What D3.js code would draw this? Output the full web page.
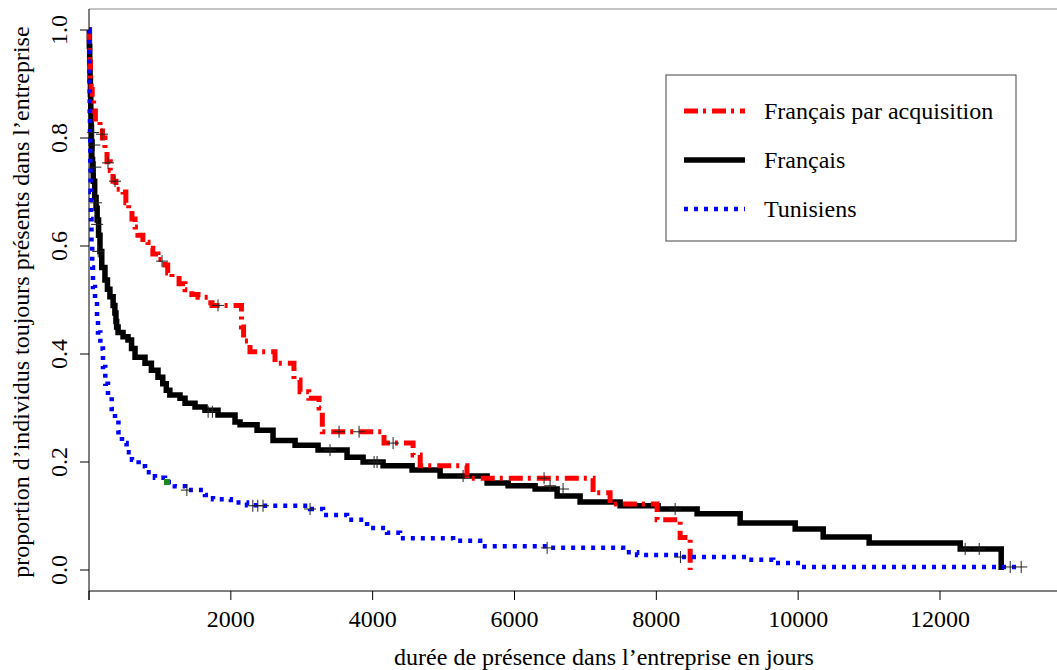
<!DOCTYPE html>
<html>
<head>
<meta charset="utf-8">
<script src="https://cdn.jsdelivr.net/npm/d3@7"></script>
<style>
  body { margin: 0; background: #fff; }
  svg text { font-family: "Liberation Serif", "Times New Roman", serif; fill: #000; }
</style>
</head>
<body>
<div id="chart"></div>
<script>
// Kaplan-Meier steps: [time in days, proportion still present after that time]
var francaisSteps = [[0,1],[5,0.97],[10,0.94],[15,0.91],[20,0.88],[25,0.85],[30,0.82],[35,0.79],[40,0.76],
  [50,0.74],[60,0.72],[80,0.69],[100,0.67],[115,0.648],[135,0.62],[155,0.59],[180,0.56],[225,0.537],
  [260,0.52],[295,0.506],[340,0.49],[365,0.476],[380,0.46],[390,0.45],[410,0.44],[480,0.432],
  [550,0.426],[600,0.41],[649,0.394],[790,0.383],[880,0.37],[973,0.357],[1040,0.345],[1090,0.333],
  [1140,0.324],[1283,0.318],[1354,0.309],[1495,0.302],[1636,0.296],[1819,0.287],
  [2059,0.274],[2130,0.269],[2370,0.259],[2595,0.24],[2906,0.231],[3230,0.222],[3639,0.209],
  [3865,0.2],[4147,0.193],[4556,0.185],[4951,0.174],[5614,0.161],[5910,0.156],[6291,0.15],
  [6601,0.137],[6925,0.126],[7489,0.119],[8025,0.113],[8575,0.104],[9182,0.087],[9958,0.076],
  [10353,0.061],[11001,0.05],[12285,0.039],[12863,0]];
var acquisSteps = [[0,1],[5,0.97],[12,0.94],[20,0.91],[30,0.89],[45,0.87],[65,0.85],[90,0.835],
  [155,0.82],[190,0.8],[225,0.78],[254,0.756],[300,0.74],[338,0.72],[380,0.705],[480,0.7],
  [520,0.68],[560,0.665],[606,0.65],[650,0.635],[690,0.62],[760,0.607],[832,0.596],[900,0.585],
  [973,0.575],[1072,0.565],[1110,0.55],[1170,0.54],[1270,0.53],[1354,0.519],[1450,0.51],
  [1537,0.505],[1680,0.495],[1735,0.49],[2150,0.45],[2180,0.424],[2270,0.404],[2623,0.383],
  [2890,0.352],[2976,0.33],[3100,0.318],[3244,0.3],[3290,0.256],[4160,0.235],[4570,0.213],
  [4670,0.193],[5330,0.17],[7108,0.143],[7348,0.122],[8011,0.093],[8336,0.06],[8477,0]];
var tunisSteps = [[0,1],[3,0.95],[6,0.9],[10,0.85],[14,0.8],[18,0.75],[22,0.7],[28,0.65],[35,0.6],
  [45,0.56],[56,0.524],[85,0.5],[113,0.463],[127,0.44],[160,0.41],[197,0.376],[230,0.345],
  [268,0.32],[320,0.298],[367,0.278],[415,0.255],[465,0.235],[530,0.218],[606,0.204],[700,0.192],
  [790,0.181],[930,0.171],[1072,0.163],[1210,0.155],[1354,0.148],[1636,0.139],[1749,0.131],
  [2000,0.125],[2228,0.12],[2454,0.119],[3117,0.113],[3300,0.102],[3639,0.093],[3921,0.078],
  [4203,0.069],[4386,0.059],[5134,0.054],[5515,0.044],[6460,0.041],[7532,0.033],[7729,0.028],
  [8336,0.024],[9281,0.019],[9648,0.013],[10028,0.0056],[13150,0.0056]];

// censored observations (+ marks)
var francaisCensor = [[60,0.81],[75,0.787],[90,0.746],[100,0.68],[115,0.64],[130,0.59],
  [1680,0.293],[1740,0.293],[3399,0.222],[4020,0.2],[4062,0.2],[5275,0.174],[6502,0.156],
  [6685,0.15],[8265,0.113],[12355,0.039],[12553,0.039]];
var acquisCensor = [[183,0.807],[268,0.754],[367,0.72],[1030,0.572],[1819,0.49],[3526,0.256],
  [3808,0.256],[4288,0.235],[6417,0.17]];
var tunisCensor = [[1380,0.148],[2310,0.119],[2380,0.119],[2454,0.119],[3117,0.113],
  [6460,0.041],[8340,0.024],[12990,0.0056],[13145,0.0056]];
var autrePoint = [[1100,0.163]];

var xTicks = [0, 2000, 4000, 6000, 8000, 10000, 12000];
var yTicks = [0, 0.2, 0.4, 0.6, 0.8, 1.0];
var legendLabels = ["Français par acquisition", "Français", "Tunisiens"];

var W = 1057, H = 670;
var FONT = "Liberation Serif, Times New Roman, serif";
var svg = d3.select("#chart").append("svg").attr("width", W).attr("height", H);

var x = d3.scaleLinear().domain([0, 12000]).range([89, 940]);
var y = d3.scaleLinear().domain([0, 1]).range([570, 30]);
var axisY = 591;

// frame: grey top line, left and bottom axis lines
svg.append("line").attr("x1", 89).attr("x2", W).attr("y1", 9).attr("y2", 9)
  .attr("stroke", "#888").attr("stroke-width", 1);
svg.append("line").attr("x1", 89).attr("x2", 89).attr("y1", 9).attr("y2", 600)
  .attr("stroke", "#000").attr("stroke-width", 1);
svg.append("line").attr("x1", 89).attr("x2", W).attr("y1", axisY).attr("y2", axisY)
  .attr("stroke", "#000").attr("stroke-width", 1);

// x axis ticks
svg.selectAll("line.xt").data(xTicks).enter().append("line")
  .attr("x1", function(d) { return x(d); }).attr("x2", function(d) { return x(d); })
  .attr("y1", axisY).attr("y2", 600).attr("stroke", "#000");
svg.selectAll("text.xt").data(xTicks.filter(function(d) { return d > 0; })).enter().append("text")
  .attr("x", function(d) { return x(d); }).attr("y", 627)
  .attr("text-anchor", "middle").attr("font-family", FONT).style("font-size", "24px")
  .text(function(d) { return d; });

// y axis ticks
svg.selectAll("line.yt").data(yTicks).enter().append("line")
  .attr("x1", 80).attr("x2", 89)
  .attr("y1", function(d) { return y(d); }).attr("y2", function(d) { return y(d); })
  .attr("stroke", "#000");
svg.selectAll("text.yt").data(yTicks).enter().append("text")
  .attr("transform", function(d) { return "translate(67," + y(d) + ") rotate(-90)"; })
  .attr("text-anchor", "middle").attr("font-family", FONT).style("font-size", "24px")
  .text(function(d) { return d3.format(".1f")(d); });

// axis titles
svg.append("text").attr("x", 604).attr("y", 665).attr("text-anchor", "middle")
  .attr("font-family", FONT).style("font-size", "24px")
  .text("durée de présence dans l’entreprise en jours");
svg.append("text").attr("transform", "translate(29,302) rotate(-90)")
  .attr("text-anchor", "middle").attr("font-family", FONT).style("font-size", "24px")
  .text("proportion d’individus toujours présents dans l’entreprise");

// survival curves
var line = d3.line()
  .x(function(d) { return x(d[0]); })
  .y(function(d) { return y(d[1]); })
  .curve(d3.curveStepAfter);

var styles = {
  acquis: { color: "#ff0000", width: 5, dash: "14,5,3,6" },
  francais: { color: "#000000", width: 5.5, dash: null },
  tunis: { color: "#0000ff", width: 4.5, dash: "4,6" }
};

function drawCurve(steps, st) {
  svg.append("path").datum(steps).attr("d", line)
    .attr("fill", "none").attr("stroke", st.color)
    .attr("stroke-width", st.width)
    .attr("stroke-dasharray", st.dash)
    .attr("stroke-linejoin", "miter").attr("stroke-linecap", "butt");
}
drawCurve(francaisSteps, styles.francais);
drawCurve(acquisSteps, styles.acquis);
drawCurve(tunisSteps, styles.tunis);

// censor marks
function drawCensor(pts) {
  var g = svg.append("g");
  pts.forEach(function(p) {
    var cx = x(p[0]), cy = y(p[1]);
    g.append("line").attr("x1", cx - 6).attr("x2", cx + 6).attr("y1", cy).attr("y2", cy)
      .attr("stroke", "#222").attr("stroke-width", 1);
    g.append("line").attr("x1", cx).attr("x2", cx).attr("y1", cy - 6).attr("y2", cy + 6)
      .attr("stroke", "#222").attr("stroke-width", 1);
  });
}
drawCensor(francaisCensor);
drawCensor(acquisCensor);
drawCensor(tunisCensor);

svg.selectAll("rect.autre").data(autrePoint).enter().append("rect")
  .attr("x", function(d) { return x(d[0]) - 3; }).attr("y", function(d) { return y(d[1]) - 3; })
  .attr("width", 6).attr("height", 6).attr("fill", "#1a8a1a");

// legend
var lg = svg.append("g");
lg.append("rect").attr("x", 666).attr("y", 75).attr("width", 350).attr("height", 166)
  .attr("fill", "#fff").attr("stroke", "#444").attr("stroke-width", 1);
var legendStyles = [styles.acquis, styles.francais, styles.tunis];
legendLabels.forEach(function(lab, i) {
  var ly = 111 + i * 49;
  var st = legendStyles[i];
  lg.append("line").attr("x1", 684).attr("x2", 745).attr("y1", ly).attr("y2", ly)
    .attr("stroke", st.color).attr("stroke-width", st.width)
    .attr("stroke-dasharray", st.dash);
  lg.append("text").attr("x", 764).attr("y", ly + 8)
    .attr("font-family", FONT).style("font-size", "24px").text(lab);
});
</script>
</body>
</html>
